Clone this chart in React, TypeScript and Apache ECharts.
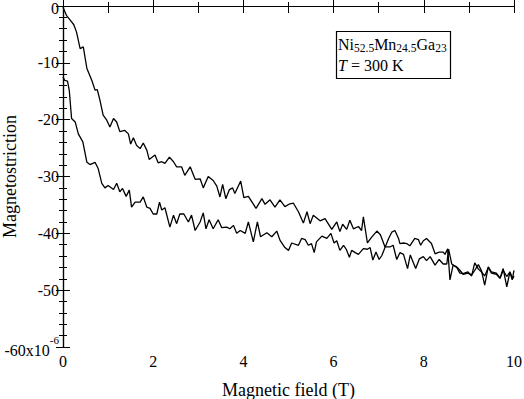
import React, { useEffect, useRef } from "react";
import * as echarts from "echarts";

// Magnetic field (T) / magnetostriction (x10^-6) pairs
const curveFromZero: [number, number][] = [
  [0, -0.2], [0.08, -1.7], [0.16, -2.5], [0.24, -3.3], [0.3, -4.6], [0.38, -7.5], [0.45, -7.2],
  [0.53, -11.0], [0.64, -13.1], [0.71, -14.8], [0.76, -14.7], [0.82, -16.6], [0.89, -19.2],
  [0.97, -20.1], [1.04, -21.3], [1.12, -19.8], [1.19, -20.4], [1.26, -22.1], [1.37, -21.9],
  [1.45, -22.5], [1.5, -24.3], [1.56, -23.2], [1.63, -24.5], [1.71, -25.1], [1.78, -24.1],
  [1.86, -25.4], [1.91, -27.0], [2.04, -26.2], [2.11, -27.6], [2.19, -27.4], [2.26, -27.7],
  [2.36, -26.6], [2.45, -27.4], [2.52, -28.3], [2.63, -28.3], [2.7, -29.8], [2.82, -28.3],
  [2.93, -30.5], [3.04, -30.4], [3.11, -32.0], [3.22, -30.0], [3.33, -30.7], [3.41, -31.7],
  [3.48, -33.6], [3.54, -31.4], [3.61, -33.9], [3.69, -32.3], [3.76, -32.0], [3.81, -33.0],
  [3.94, -30.8], [4.01, -33.7], [4.11, -33.5], [4.28, -35.6], [4.41, -33.9], [4.48, -34.9],
  [4.59, -34.1], [4.7, -35.4], [4.81, -34.1], [4.92, -35.3], [5.03, -34.8], [5.11, -34.7],
  [5.22, -36.2], [5.33, -38.2], [5.41, -36.2], [5.48, -38.3], [5.55, -36.8], [5.7, -37.8],
  [5.81, -37.4], [5.96, -39.3], [6.07, -38.0], [6.14, -39.7], [6.2, -38.4], [6.29, -39.3],
  [6.36, -37.7], [6.44, -39.2], [6.55, -38.8], [6.62, -39.5], [6.66, -37.1], [6.75, -41.7],
  [6.84, -40.7], [6.96, -39.6], [7.04, -40.3], [7.14, -42.4], [7.25, -42.4], [7.32, -42.1],
  [7.4, -44.6], [7.47, -43.4], [7.55, -43.7], [7.64, -46.2], [7.7, -43.8], [7.82, -46.2],
  [7.9, -44.5], [7.99, -44.1], [8.06, -44.8], [8.14, -44.1], [8.25, -45.6], [8.34, -44.6],
  [8.43, -45.4], [8.51, -45.4], [8.55, -42.8], [8.62, -45.4], [8.73, -46.0], [8.8, -47.0],
  [8.87, -47.1], [8.98, -46.8], [9.06, -47.5], [9.13, -45.2], [9.21, -46.3], [9.28, -46.8],
  [9.35, -47.5], [9.43, -46.0], [9.5, -47.0], [9.61, -47.2], [9.69, -47.9], [9.76, -46.5],
  [9.84, -47.6], [9.91, -46.8], [9.97, -48.0], [10, -47.5],
];

const curveFromRemanence: [number, number][] = [
  [0, -12.5], [0.04, -13.1], [0.1, -13.2], [0.14, -14.9], [0.19, -19.8], [0.27, -20.4],
  [0.34, -22.5], [0.44, -23.9], [0.53, -27.5], [0.6, -27.9], [0.71, -27.5], [0.78, -28.6],
  [0.86, -31.2], [0.93, -32.0], [1.0, -31.6], [1.12, -32.3], [1.19, -31.2], [1.26, -32.7],
  [1.32, -32.1], [1.4, -33.5], [1.47, -32.4], [1.52, -35.4], [1.6, -34.5], [1.71, -34.5],
  [1.78, -33.6], [1.86, -35.4], [1.93, -35.6], [2.0, -36.6], [2.08, -36.6], [2.14, -34.5],
  [2.19, -35.9], [2.26, -35.5], [2.37, -38.9], [2.45, -36.8], [2.52, -38.3], [2.59, -36.6],
  [2.68, -36.6], [2.78, -38.0], [2.85, -36.8], [2.93, -39.5], [3.04, -38.0], [3.11, -36.4],
  [3.17, -39.2], [3.24, -37.6], [3.33, -39.2], [3.44, -37.6], [3.52, -39.0], [3.63, -38.9],
  [3.7, -39.2], [3.78, -38.6], [3.85, -40.0], [3.93, -39.5], [4.04, -40.0], [4.11, -38.0],
  [4.22, -41.5], [4.31, -38.0], [4.38, -40.6], [4.52, -39.9], [4.63, -40.6], [4.74, -39.6],
  [4.81, -41.2], [4.92, -42.5], [5.0, -43.0], [5.07, -41.7], [5.22, -42.1], [5.29, -40.9],
  [5.37, -41.1], [5.44, -42.1], [5.51, -41.8], [5.57, -43.4], [5.62, -41.5], [5.74, -40.5],
  [5.85, -40.9], [5.94, -40.0], [6.01, -41.7], [6.07, -41.3], [6.14, -43.0], [6.22, -42.1],
  [6.28, -42.8], [6.35, -44.2], [6.4, -43.0], [6.48, -43.4], [6.55, -43.7], [6.66, -42.7],
  [6.75, -42.8], [6.81, -42.5], [6.87, -44.7], [6.94, -43.3], [7.01, -44.6], [7.07, -43.9],
  [7.14, -42.5], [7.22, -40.9], [7.29, -39.8], [7.36, -39.5], [7.44, -40.9], [7.47, -41.8],
  [7.55, -41.7], [7.62, -41.8], [7.69, -42.2], [7.8, -40.9], [7.88, -41.1], [7.93, -42.1],
  [7.99, -41.3], [8.06, -40.9], [8.17, -41.8], [8.25, -43.6], [8.34, -43.3], [8.43, -43.3],
  [8.47, -43.7], [8.53, -42.7], [8.58, -48.2], [8.65, -45.6], [8.73, -45.9], [8.8, -46.5],
  [8.87, -47.2], [8.98, -47.0], [9.06, -47.3], [9.13, -46.5], [9.21, -45.5], [9.28, -46.6],
  [9.35, -49.1], [9.43, -45.9], [9.5, -46.8], [9.61, -47.0], [9.69, -47.9], [9.76, -46.2],
  [9.84, -49.4], [9.91, -46.8], [9.96, -48.2], [10, -46.5],
];

const xTicks = [0, 2, 4, 6, 8, 10];
const yTicks = [0, -10, -20, -30, -40, -50, -60];

const FONT = "'Liberation Serif', 'Times New Roman', serif";

export default function App() {
  const ref = useRef<HTMLDivElement>(null);

  useEffect(() => {
    if (!ref.current) return;
    const chart = echarts.init(ref.current, null, { renderer: "svg" });
    const axisLine = { show: true, lineStyle: { color: "#000", width: 1.2 } };
    const option: any = {
      animation: false,
      backgroundColor: "#fff",
      grid: { left: 63, right: 10, top: 6, bottom: 52, containLabel: false, outerBoundsMode: "none" },
      xAxis: [
        {
          type: "value",
          min: xTicks[0],
          max: xTicks[xTicks.length - 1],
          interval: 2,
          name: "Magnetic field (T)",
          nameLocation: "middle",
          nameGap: 34,
          nameMoveOverlap: false,
          nameTextStyle: { fontFamily: FONT, fontSize: 18, color: "#000" },
          axisLine,
          axisTick: { show: true, inside: true, length: 7, lineStyle: { color: "#000", width: 1 } },
          minorTick: { show: true, splitNumber: 2, length: 4, lineStyle: { color: "#000", width: 1 } },
          splitLine: { show: false },
          axisLabel: { fontFamily: FONT, fontSize: 16, color: "#000", margin: 6 },
        },
        {
          type: "value",
          position: "top",
          min: 0,
          max: 10,
          interval: 1,
          axisLine,
          axisTick: { show: true, inside: true, length: 7, lineStyle: { color: "#000", width: 1 } },
          splitLine: { show: false },
          axisLabel: { show: false },
        },
      ],
      yAxis: [
        {
          type: "value",
          min: yTicks[yTicks.length - 1],
          max: yTicks[0],
          interval: 10,
          name: "Magnetostriction",
          nameLocation: "middle",
          nameGap: 44,
          nameMoveOverlap: false,
          nameTextStyle: { fontFamily: FONT, fontSize: 18, color: "#000" },
          axisLine,
          axisTick: { show: true, inside: true, length: 7, lineStyle: { color: "#000", width: 1 } },
          minorTick: { show: true, splitNumber: 5, length: 4, lineStyle: { color: "#000", width: 1 } },
          splitLine: { show: false },
          axisLabel: {
            fontFamily: FONT,
            fontSize: 16,
            color: "#000",
            margin: 4,
            formatter: (v: number) =>
              v === -60 ? "{a|-60x10}{b|-6}" : v === 0 ? "{z|0}" : String(v),
            rich: {
              a: { fontFamily: FONT, fontSize: 16, color: "#000", padding: [6, 0, 0, 0] },
              b: { fontFamily: FONT, fontSize: 11, color: "#000", padding: [0, 0, 14, 0] },
              z: { fontFamily: FONT, fontSize: 16, color: "#000", padding: [4, 0, 0, 0] },
            },
          },
        },
        {
          type: "value",
          position: "right",
          min: -60,
          max: 0,
          interval: 10,
          axisLine,
          axisTick: { show: true, inside: true, length: 7, lineStyle: { color: "#000", width: 1 } },
          minorTick: { show: true, splitNumber: 5, length: 4, lineStyle: { color: "#000", width: 1 } },
          splitLine: { show: false },
          axisLabel: { show: false },
        },
      ],
      graphic: [
        {
          type: "rect",
          shape: { x: 336.5, y: 31.5, width: 114, height: 47 },
          style: { fill: "#fff", stroke: "#000", lineWidth: 1.2 },
          z: 10,
        },
        {
          type: "text",
          x: 338,
          y: 34,
          z: 11,
          style: {
            text: "Ni{s|52.5}Mn{s|24.5}Ga{s|23}",
            fontFamily: FONT,
            fontSize: 16,
            fill: "#000",
            rich: {
              s: { fontFamily: FONT, fontSize: 11.5, fill: "#000", padding: [8, 0, 0, 0] },
            },
          },
        },
        {
          type: "text",
          x: 338,
          y: 57,
          z: 11,
          style: {
            text: "{i|T} = 300 K",
            fontFamily: FONT,
            fontSize: 16,
            fill: "#000",
            rich: {
              i: { fontFamily: FONT, fontSize: 16, fontStyle: "italic", fill: "#000" },
            },
          },
        },
      ],
      series: [
        {
          type: "line",
          data: curveFromZero,
          showSymbol: false,
          symbol: "none",
          lineStyle: { color: "#000", width: 1.3 },
          xAxisIndex: 0,
          yAxisIndex: 0,
        },
        {
          type: "line",
          data: curveFromRemanence,
          showSymbol: false,
          symbol: "none",
          lineStyle: { color: "#000", width: 1.3 },
          xAxisIndex: 0,
          yAxisIndex: 0,
        },
      ],
    };
    chart.setOption(option);
    return () => chart.dispose();
  }, []);

  return (
    <div
      ref={ref}
      style={{ position: "absolute", left: 0, top: 0, width: 524, height: 399, background: "#fff" }}
    />
  );
}
